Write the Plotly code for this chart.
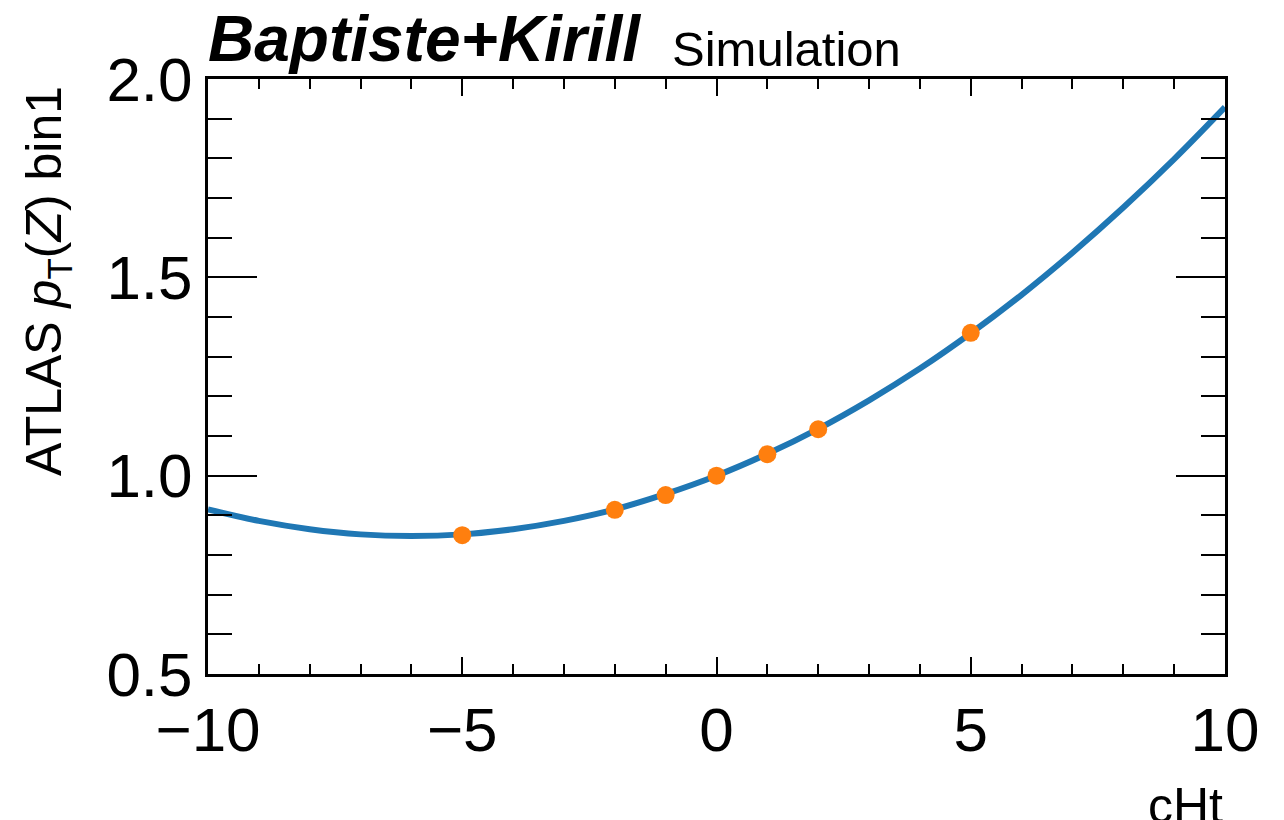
import plotly.graph_objects as go

# Curve
curve_x = [-10, -9, -8, -7, -6, -5, -4, -3, -2, -1, 0, 1, 2, 3, 4, 5, 6, 7, 8, 9, 10]
curve_y = [0.915, 0.886, 0.865, 0.852, 0.848, 0.852, 0.865, 0.886, 0.915, 0.954, 1.000,
           1.055, 1.118, 1.190, 1.270, 1.359, 1.456, 1.562, 1.676, 1.798, 1.929]

# Sample points
pts_x = [-5, -2, -1, 0, 1, 2, 5]
pts_y = [0.850, 0.914, 0.951, 1.000, 1.054, 1.117, 1.360]

x_ticks = [-10, -5, 0, 5, 10]
y_ticks = [0.5, 1.0, 1.5, 2.0]
y_tick_labels = ["0.5", "1.0", "1.5", "2.0"]

W, H = 1284, 820
L, R, T, B = 208, 59, 79, 146
PW, PH = W - L - R, H - T - B


def px(xp):
    return (xp - L) / PW


def py(yp):
    return (H - B - yp) / PH


FONT = "Liberation Sans, Arial, Helvetica, sans-serif"

fig = go.Figure()
fig.add_trace(go.Scatter(x=curve_x, y=curve_y, mode="lines",
                         line=dict(color="#1f77b4", width=6, shape="spline"),
                         showlegend=False, hoverinfo="skip"))
fig.add_trace(go.Scatter(x=pts_x, y=pts_y, mode="markers",
                         marker=dict(color="#ff7f0e", size=18, line=dict(width=0)),
                         showlegend=False))

axis_common = dict(showgrid=False, zeroline=False, showline=True, linecolor="black",
                   linewidth=3, mirror="ticks", ticks="inside", tickcolor="black",
                   tickwidth=2, tickfont=dict(family=FONT, size=62, color="black"))

fig.update_xaxes(range=[-10, 10], tickvals=x_ticks, ticklen=17,
                 minor=dict(dtick=1, ticks="inside", ticklen=10, tickwidth=2, tickcolor="black"),
                 **axis_common)
fig.update_yaxes(range=[0.5, 2.0], tickvals=y_ticks, ticktext=y_tick_labels, ticklen=49,
                 minor=dict(dtick=0.1, ticks="inside", ticklen=24, tickwidth=2, tickcolor="black"),
                 **axis_common)

fig.update_layout(
    width=W, height=H,
    margin=dict(l=L, r=R, t=T, b=B, pad=0),
    paper_bgcolor="white", plot_bgcolor="white",
    font=dict(family=FONT, color="black"),
    annotations=[
        dict(text="<b><i>Baptiste+Kirill</i></b>", x=px(206), y=py(77), xref="paper", yref="paper",
             xanchor="left", yanchor="bottom", showarrow=False,
             font=dict(family=FONT, size=64, color="black")),
        dict(text="Simulation", x=px(670), y=py(78), xref="paper", yref="paper",
             xanchor="left", yanchor="bottom", showarrow=False,
             font=dict(family=FONT, size=49, color="black")),
        dict(text="ATLAS <i>p</i><sub>T</sub>(<i>Z</i>) bin1", x=px(47), y=py(84),
             xref="paper", yref="paper", xanchor="center", yanchor="top", textangle=-90,
             showarrow=False, font=dict(family=FONT, size=50, color="black")),
        dict(text="cHt", x=1.0, y=py(776), xref="paper", yref="paper",
             xanchor="right", yanchor="top", showarrow=False,
             font=dict(family=FONT, size=50, color="black")),
    ],
)

fig.write_html("out.html")
